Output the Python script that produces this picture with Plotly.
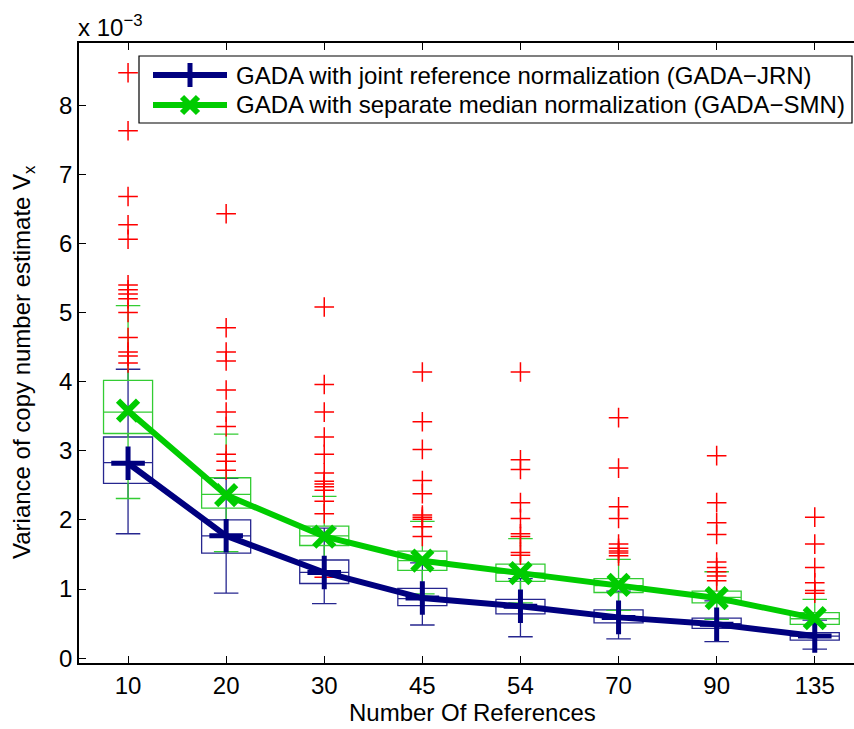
import plotly.graph_objects as go

# ---------------- data (values in units of 1e-3) ----------------
categories = ["10", "20", "30", "45", "54", "70", "90", "135"]

blue_q1 = [2.53, 1.52, 1.08, 0.76, 0.64, 0.51, 0.43, 0.26]
blue_med = [2.83, 1.77, 1.24, 0.86, 0.75, 0.60, 0.50, 0.32]
blue_q3 = [3.20, 2.00, 1.42, 1.01, 0.85, 0.70, 0.58, 0.37]
blue_lo = [1.80, 0.94, 0.79, 0.48, 0.31, 0.28, 0.24, 0.13]
blue_hi = [4.18, 2.60, 1.88, 1.38, 1.15, 0.97, 0.83, 0.55]
blue_mean = [2.82, 1.77, 1.24, 0.87, 0.75, 0.59, 0.49, 0.32]

green_q1 = [3.25, 2.17, 1.63, 1.27, 1.11, 0.95, 0.80, 0.49]
green_med = [3.56, 2.37, 1.77, 1.41, 1.23, 1.05, 0.88, 0.57]
green_q3 = [4.02, 2.61, 1.91, 1.55, 1.36, 1.15, 0.97, 0.66]
green_lo = [2.31, 1.54, 1.25, 0.93, 0.80, 0.69, 0.56, 0.33]
green_hi = [5.10, 3.24, 2.34, 1.98, 1.73, 1.43, 1.25, 0.85]
green_mean = [3.58, 2.36, 1.76, 1.41, 1.23, 1.06, 0.87, 0.58]

out_10 = [8.47, 7.63, 6.68, 6.27, 6.06, 5.40, 5.33, 5.27, 5.20, 5.00, 4.64, 4.43, 4.37, 4.27]
out_20 = [6.43, 4.78, 4.43, 4.30, 3.88, 3.56, 3.35, 2.95, 2.85, 2.72]
out_30 = [5.08, 3.96, 3.56, 3.20, 2.95, 2.68, 2.56, 2.52, 2.48, 2.43, 2.27, 2.09, 1.17]
out_45 = [4.14, 3.42, 3.02, 2.57, 2.38, 2.07, 2.04, 2.01, 1.90, 1.76]
out_54 = [4.14, 2.87, 2.73, 2.25, 2.02, 1.80, 1.76, 1.53, 1.49]
out_70 = [3.48, 2.75, 2.19, 2.02, 1.65, 1.59, 1.55, 1.52, 1.48]
out_90 = [2.93, 2.25, 1.96, 1.79, 1.39, 1.31, 1.25, 1.19, 1.12]
out_135 = [2.04, 1.65, 1.31, 1.09, 0.98, 0.94]
outlier_groups = [out_10, out_20, out_30, out_45, out_54, out_70, out_90, out_135]

series_names = [
    "GADA with joint reference normalization (GADA\u2212JRN)",
    "GADA with separate median normalization (GADA\u2212SMN)",
]

# ---------------- styling ----------------
W, H = 854, 729
PL, PR, PT, PB = 79, 854, 43, 663  # plot area in pixels
FONT = "Liberation Sans, Arial, Helvetica, sans-serif"
FS = 24
NAVY = "#00007f"
BOX_BLUE = "#26268f"
GREEN = "#00cc00"
BOX_GREEN = "#33cc33"
RED = "#ff0000"

pos = list(range(1, len(categories) + 1))


def px(x):
    return (x - PL) / (PR - PL)


def py(y):
    return (PB - y) / (PB - PT)


fig = go.Figure()

for q1, med, q3, lo, hi, col in [
    (blue_q1, blue_med, blue_q3, blue_lo, blue_hi, BOX_BLUE),
    (green_q1, green_med, green_q3, green_lo, green_hi, BOX_GREEN),
]:
    fig.add_trace(go.Box(
        x=pos, q1=q1, median=med, q3=q3, lowerfence=lo, upperfence=hi,
        width=0.5, whiskerwidth=0.5, boxpoints=False,
        line=dict(color=col, width=1.3), fillcolor="rgba(0,0,0,0)",
        showlegend=False, hoverinfo="skip",
    ))

ox, oy = [], []
for p, grp in zip(pos, outlier_groups):
    for v in grp:
        ox.append(p)
        oy.append(v)
fig.add_trace(go.Scatter(
    x=ox, y=oy, mode="markers", showlegend=False,
    marker=dict(symbol="cross-thin", size=14, line=dict(color=RED, width=1.5)),
))

fig.add_trace(go.Scatter(
    x=pos, y=blue_mean, mode="lines+markers", name=series_names[0], showlegend=False,
    line=dict(color=NAVY, width=6),
    marker=dict(symbol="cross-thin", size=24, line=dict(color=NAVY, width=5)),
))
fig.add_trace(go.Scatter(
    x=pos, y=green_mean, mode="lines+markers", name=series_names[1], showlegend=False,
    line=dict(color=GREEN, width=6),
    marker=dict(symbol="x-thin", size=20, line=dict(color=GREEN, width=6)),
))

# ---------------- manual legend (MATLAB style) ----------------
shapes = []
shapes.append(dict(type="rect", xref="paper", yref="paper",
                   x0=px(139), x1=px(852), y0=py(123), y1=py(56),
                   line=dict(color="black", width=1.2), fillcolor="white", layer="above"))
rows = [(75, NAVY), (105, GREEN)]
for i, (yy, col) in enumerate(rows):
    shapes.append(dict(type="line", xref="paper", yref="paper",
                       x0=px(153), x1=px(227), y0=py(yy), y1=py(yy),
                       line=dict(color=col, width=6), layer="above"))
# + marker
shapes.append(dict(type="line", xref="paper", yref="paper", x0=px(178), x1=px(202),
                   y0=py(75), y1=py(75), line=dict(color=NAVY, width=5), layer="above"))
shapes.append(dict(type="line", xref="paper", yref="paper", x0=px(190), x1=px(190),
                   y0=py(63), y1=py(87), line=dict(color=NAVY, width=5), layer="above"))
# x marker
shapes.append(dict(type="line", xref="paper", yref="paper", x0=px(182), x1=px(198),
                   y0=py(97), y1=py(113), line=dict(color=GREEN, width=6), layer="above"))
shapes.append(dict(type="line", xref="paper", yref="paper", x0=px(182), x1=px(198),
                   y0=py(113), y1=py(97), line=dict(color=GREEN, width=6), layer="above"))

annotations = []
for (yy, col), name in zip(rows, series_names):
    annotations.append(dict(text=name, xref="paper", yref="paper", x=px(234), y=py(yy),
                            xanchor="left", yanchor="middle", showarrow=False,
                            font=dict(family=FONT, size=FS, color="black")))

annotations.append(dict(text="Number Of References", xref="paper", yref="paper",
                        x=px(472), y=py(712), xanchor="center", yanchor="middle",
                        showarrow=False, font=dict(family=FONT, size=FS, color="black")))
annotations.append(dict(text="Variance of copy number estimate V<sub>x</sub>", xref="paper", yref="paper",
                        x=px(23), y=py(362), xanchor="center", yanchor="middle", textangle=-90,
                        showarrow=False, font=dict(family=FONT, size=FS, color="black")))
annotations.append(dict(text="x 10<sup>\u22123</sup>", xref="paper", yref="paper",
                        x=px(76), y=py(26), xanchor="left", yanchor="middle",
                        showarrow=False, font=dict(family=FONT, size=FS, color="black")))

fig.update_layout(
    width=W, height=H,
    margin=dict(l=PL, r=W - PR, t=PT, b=H - PB, pad=0),
    paper_bgcolor="white", plot_bgcolor="white",
    boxmode="overlay",
    showlegend=False,
    font=dict(family=FONT, size=FS, color="black"),
    shapes=shapes, annotations=annotations,
    xaxis=dict(range=[0.5, 8.4], tickmode="array", tickvals=pos, ticktext=categories,
               showgrid=False, zeroline=False, showline=True, linecolor="black", linewidth=1.5,
               mirror="ticks", ticks="inside", ticklen=7, tickcolor="black", tickwidth=1,
               tickfont=dict(family=FONT, size=FS)),
    yaxis=dict(range=[-0.07, 8.9], tickmode="array", tickvals=list(range(0, 9)),
               showgrid=False, zeroline=False, showline=True, linecolor="black", linewidth=1.5,
               ticks="inside", ticklen=7, tickcolor="black", tickwidth=1,
               tickfont=dict(family=FONT, size=FS)),
)

fig.write_html("out.html")
